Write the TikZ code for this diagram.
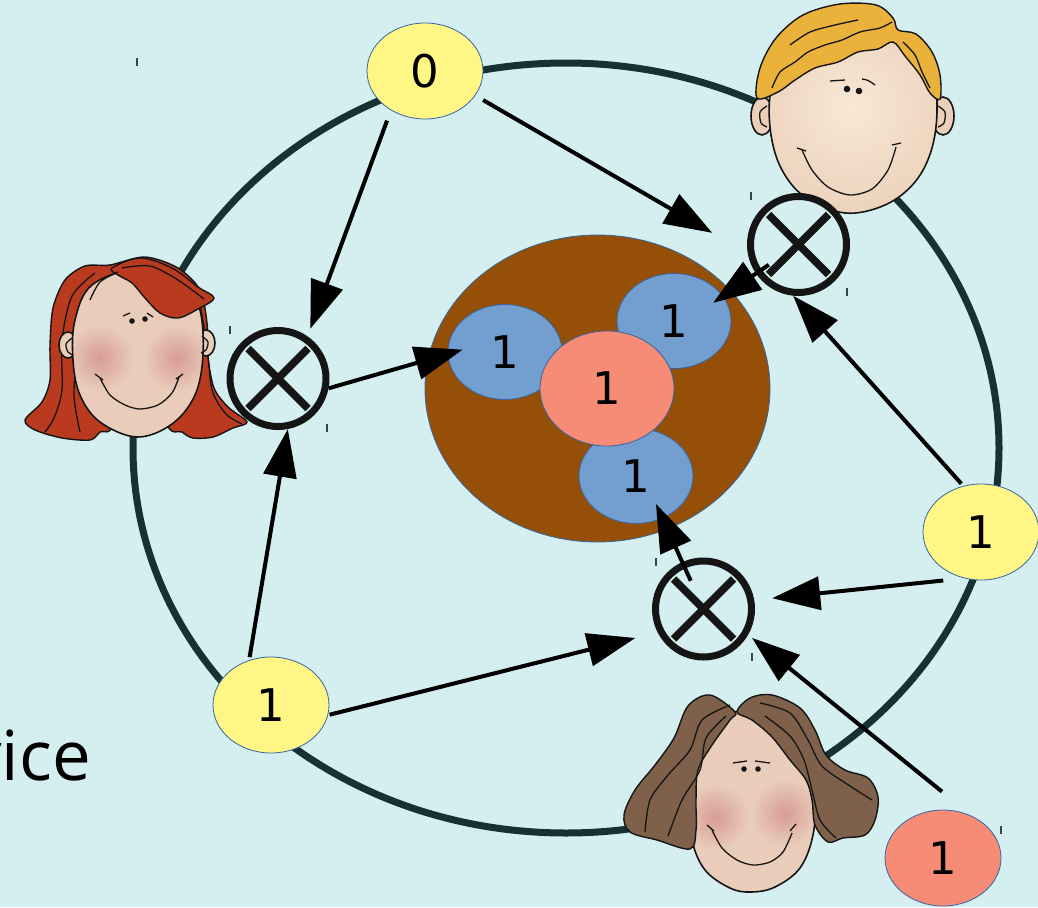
\documentclass[tikz,border=0pt]{standalone}
\usepackage{fontspec}
\usetikzlibrary{shapes.geometric,arrows.meta}
\newfontfamily\digitfont{DejaVu Sans}
\newfontfamily\labelfont{Open Sans}

\definecolor{bgcol}{HTML}{D5EFF0}
\definecolor{ringcol}{HTML}{153131}
\definecolor{yellowcol}{HTML}{FFF685}
\definecolor{coralcol}{HTML}{F68C76}
\definecolor{bluecol}{HTML}{729FCF}
\definecolor{browncol}{HTML}{954F06}
\definecolor{lineblue}{HTML}{3465A4}
\definecolor{inkcol}{HTML}{151515}
\definecolor{skincol}{HTML}{E9CDBA}
\definecolor{boyskin}{HTML}{EBCFB8}
\definecolor{boyglow}{HTML}{F7E8D5}
\definecolor{blushcol}{HTML}{D89C94}
\definecolor{blondcol}{HTML}{EBB23B}
\definecolor{redhair}{HTML}{BA3A1F}
\definecolor{brownhair}{HTML}{7F604A}
\definecolor{markcol}{HTML}{2F4A4A}

% face outlines
\def\boyface{plot[smooth cycle, tension=0.6] coordinates {(770,95) (771,135) (782,170) (805,197) (845,213) (885,205) (915,182) (932,148) (937,105) (930,65) (880,30) (820,30) (780,60)}}
\def\redface{plot[smooth cycle, tension=0.6] coordinates {(75,320) (73,360) (80,395) (100,422) (137,437) (172,424) (195,395) (203,355) (200,310) (185,285) (137,270) (92,285)}}
\def\brownface{plot[smooth cycle, tension=0.6] coordinates {(690,800) (692,840) (705,870) (730,888) (751,892) (775,887) (800,868) (813,835) (815,795) (808,750) (790,720) (750,710) (712,722) (695,755)}}

\begin{document}
\begin{tikzpicture}[x=1pt,y=-1pt,
  valnode/.style={ellipse, draw=lineblue, line width=0.8pt, inner sep=0pt,
    minimum width=116pt, minimum height=96pt,
    font=\digitfont\fontsize{45}{54}\selectfont},
  blob/.style={valnode, fill=bluecol, minimum width=114pt, minimum height=95pt},
  xcirc/.style={circle, draw=inkcol, fill=bgcol, line width=7pt, inner sep=0pt, minimum size=96pt},
  xstroke/.style={draw=inkcol, line width=7.5pt},
  arr/.style={draw=black, line width=4pt, -{Triangle[length=48pt,width=33pt]}},
  facestroke/.style={draw=inkcol, line width=1.6pt},
  strand/.style={draw=inkcol, line width=1.3pt},
  handlemark/.style={draw=markcol, line width=1.5pt}]

\useasboundingbox (0,0) rectangle (1038,907);
\fill[bgcol] (0,0) rectangle (1038,907);
\clip (0,0) rectangle (1038,907);

% the ring
\draw[ringcol, line width=7pt] (566,448) ellipse [x radius=433pt, y radius=385pt];

% ---- boy, top right ----
\filldraw[fill=boyskin, facestroke] (762,116) ellipse [x radius=11pt, y radius=19pt];
\filldraw[fill=boyskin, facestroke] (943,116) ellipse [x radius=11pt, y radius=19pt];
\draw[strand] plot[smooth] coordinates {(767,106) (760,112) (761,123) (767,127)};
\draw[strand] plot[smooth] coordinates {(938,106) (945,112) (944,123) (938,127)};
\fill[boyskin] \boyface;
\begin{scope}
  \clip \boyface;
  \shade[inner color=boyglow, outer color=boyskin] (852,108) circle (120pt);
\end{scope}
\draw[facestroke] \boyface;
\fill[inkcol] (847,89) circle (3.3pt) (859,91) circle (3.3pt);
\draw[strand] (830,81) -- (845,80);
\draw[strand] (862,79) .. controls (868,80) .. (875,85);
\draw[strand] plot[smooth] coordinates {(802,150) (812,170) (828,187) (850,195) (872,189) (888,170) (896,147)};
\draw[strand] (797,148) -- (806,151) (892,145) -- (901,143);
\filldraw[fill=blondcol, draw=inkcol, line width=1.4pt] plot[smooth cycle, tension=0.55] coordinates {(757,98) (760,68) (776,38) (803,15) (840,4) (876,5) (893,18) (898,30) (916,34) (932,52) (940,75) (940,99) (930,93) (920,75) (905,56) (893,42) (878,49) (858,52) (838,62) (815,68) (795,80) (778,92)};
\draw[strand] plot[smooth] coordinates {(772,88) (780,72) (795,62) (808,52) (825,45) (842,40) (860,32) (880,28) (892,22)};
\draw[strand] plot[smooth] coordinates {(790,45) (810,32) (835,25) (858,20)};
\draw[strand] plot[smooth] coordinates {(903,42) (915,55) (922,72) (930,88)};

% ---- red-haired girl, left ----
\filldraw[fill=redhair, draw=inkcol, line width=1.4pt] plot[smooth cycle, tension=0.5] coordinates {(110,265) (85,266) (65,280) (53,308) (50,345) (50,380) (42,402) (25,420) (35,430) (62,438) (90,440) (100,432) (115,420) (137,300) (165,420) (182,432) (193,438) (213,437) (233,428) (247,422) (228,407) (214,388) (208,357) (207,323) (200,290) (178,268) (145,257)};
\draw[strand] plot[smooth] coordinates {(95,273) (72,296) (62,340) (62,390) (54,418) (45,432)};
\draw[strand] plot[smooth] coordinates {(88,300) (78,345) (74,395) (80,432)};
\draw[strand] plot[smooth] coordinates {(200,305) (207,345) (212,390) (226,414) (242,424)};
\filldraw[fill=skincol, facestroke] (68,345) ellipse [x radius=9pt, y radius=13pt];
\filldraw[fill=skincol, facestroke] (206,343) ellipse [x radius=9pt, y radius=13pt];
\fill[skincol] \redface;
\begin{scope}
  \clip \redface;
  \shade[inner color=blushcol, outer color=skincol] (100,358) circle (34pt);
  \shade[inner color=blushcol, outer color=skincol] (177,358) circle (34pt);
\end{scope}
\draw[facestroke] \redface;
\draw[strand] plot[smooth] coordinates {(72,338) (66,344) (68,352) (73,355)};
\draw[strand] plot[smooth] coordinates {(202,336) (208,342) (206,350) (201,353)};
\fill[inkcol] (132,321) circle (2.8pt) (145,319) circle (2.8pt);
\draw[strand] (123,316) -- (130,313) (147,313) -- (153,317);
\draw[strand] plot[smooth] coordinates {(100,378) (110,395) (125,405) (140,409) (158,405) (172,393) (179,377)};
\draw[strand] (95,374) -- (103,380) (176,379) -- (183,374);
\filldraw[fill=redhair, draw=inkcol, line width=1.4pt] plot[smooth cycle, tension=0.55] coordinates {(112,268) (140,258) (172,268) (198,287) (214,298) (198,309) (178,318) (160,313) (145,298) (132,283) (118,275)};
\draw[strand] plot[smooth] coordinates {(122,268) (150,266) (178,280) (204,299)};
\draw[strand] plot[smooth] coordinates {(118,272) (100,282) (90,300)};

% ---- brown-haired girl, bottom ----
\fill[skincol] \brownface;
\begin{scope}
  \clip \brownface;
  \shade[inner color=blushcol, outer color=skincol] (715,817) circle (34pt);
  \shade[inner color=blushcol, outer color=skincol] (785,813) circle (34pt);
\end{scope}
\draw[facestroke] \brownface;
\fill[inkcol] (744,769) circle (2.8pt) (758,769) circle (2.8pt);
\draw[strand] (733,763) -- (747,761) (755,761) -- (770,763);
\draw[strand] plot[smooth] coordinates {(712,830) (722,848) (737,860) (753,865) (770,862) (783,852) (792,833)};
\draw[strand] (707,825) -- (714,831) (790,831) -- (796,824);
\filldraw[fill=brownhair, draw=inkcol, line width=1.4pt] plot[smooth cycle, tension=0.55] coordinates {(735,712) (710,695) (688,706) (674,738) (655,765) (635,790) (624,815) (630,832) (657,840) (690,849) (696,830) (696,800) (698,770) (712,745) (730,720)};
\filldraw[fill=brownhair, draw=inkcol, line width=1.4pt] plot[smooth cycle, tension=0.55] coordinates {(737,712) (750,698) (772,695) (800,708) (815,730) (826,755) (845,770) (868,778) (878,797) (875,820) (865,835) (843,838) (828,842) (815,825) (812,800) (806,780) (790,760) (772,737) (752,720)};
\draw[strand] plot[smooth] coordinates {(730,705) (702,720) (690,750) (668,775) (650,800) (645,832)};
\draw[strand] plot[smooth] coordinates {(726,716) (706,738) (700,770) (682,800) (668,836)};
\draw[strand] plot[smooth] coordinates {(760,703) (790,713) (808,740) (822,766) (850,786) (872,800)};
\draw[strand] plot[smooth] coordinates {(765,716) (790,736) (804,760) (812,790) (820,820) (836,838)};

% ---- shared pot and its shares ----
\node[ellipse, fill=browncol, draw=lineblue, line width=0.8pt, inner sep=0pt,
      minimum width=345pt, minimum height=307pt] (pot) at (597.5,388.5) {};
\node[blob] (bL) at (505,352) {1};
\node[blob] (bT) at (674,321) {1};
\node[blob] (bB) at (636,476) {1};
\node[valnode, fill=coralcol, minimum width=134pt, minimum height=115pt] (core) at (607,388.5) {1};

% ---- private values ----
\node[valnode, fill=yellowcol] (z0) at (425,71) {0};
\node[valnode, fill=yellowcol] (yL) at (271,705) {1};
\node[valnode, fill=yellowcol] (yR) at (981,532) {1};
\node[valnode, fill=coralcol] (cr) at (943,858) {1};

% ---- mixing gates ----
\node[xcirc] (oL) at (278,378.5) {};
\node[xcirc] (oT) at (798.5,244.5) {};
\node[xcirc] (oB) at (703.5,609) {};
\foreach \g in {oL,oT,oB} {
  \draw[xstroke] ([shift={(-30pt,-30pt)}]\g.center) -- ([shift={(30pt,30pt)}]\g.center);
  \draw[xstroke] ([shift={(-30pt,30pt)}]\g.center) -- ([shift={(30pt,-30pt)}]\g.center);
}

% ---- connectors ----
\draw[arr, shorten <=9pt, shorten >=41pt] (z0.-26) -- (oT.190);
\draw[arr, shorten <=11pt, shorten >=8pt] (z0.229) -- (oL.55);
\draw[arr, shorten >=-15.6pt] (oL.-11) -- (bL.182);
\draw[arr, shorten <=36pt, shorten >=-12pt] (oT.center) -- (bT.27);
\draw[arr, shorten <=3pt] (yR.111) -- (oT.264);
\draw[arr, shorten <=21pt, shorten >=18pt] (yR.250) -- (oB.10);
\draw[arr, shorten <=39pt, shorten >=5pt] (cr.55) -- (oB.-30);
\draw[arr, shorten <=31pt, shorten >=-16pt] (oB.center) -- (bB.-58);
\draw[arr, shorten <=3pt] (yL.116) -- (oL.-79);
\draw[arr, shorten <=1.5pt, shorten >=23pt] (yL.-10) -- (oB.207);

% ---- small marks ----
\foreach \mx/\my in {137/62, 230/330, 327/428, 751/196, 847/292, 656/562, 752/657, 1001/830}
  \draw[handlemark] (\mx,\my-4) -- (\mx,\my+4);

% ---- label, running off the left edge ----
\node[anchor=base east, inner sep=0pt, font=\labelfont\fontsize{69}{80}\selectfont] (dev) at (91,780) {vice};
\end{tikzpicture}
\end{document}
